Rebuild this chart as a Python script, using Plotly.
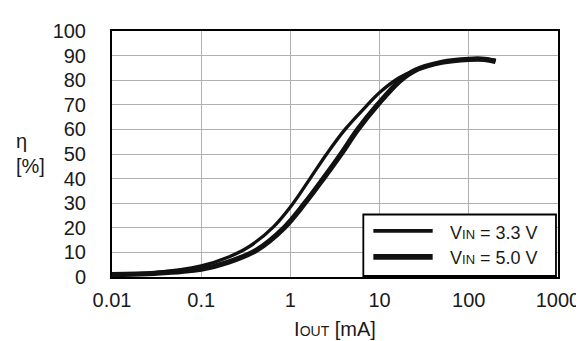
import plotly.graph_objects as go

# Data
iout_33 = [0.01, 0.03, 0.1, 0.2, 0.35, 0.65, 1.05, 1.66, 2.55, 4.1, 7.1, 10, 16.6, 25, 50, 100, 150, 200]
eff_33 = [1.2, 1.8, 4.5, 8, 12.5, 20.5, 29.5, 40, 50, 60, 69.5, 75, 81, 84, 87.3, 88.5, 88.6, 88.2]

iout_50 = [0.01, 0.03, 0.1, 0.2, 0.42, 0.85, 1.45, 2.34, 3.7, 5.7, 9.5, 16.6, 25, 50, 100, 150, 200]
eff_50 = [1.0, 1.5, 3.2, 6, 11, 20, 30, 40, 50, 60, 70, 79.5, 84, 87.3, 88.5, 88.5, 87.6]

x_ticks = [0.01, 0.1, 1, 10, 100, 1000]
x_tick_labels = ["0.01", "0.1", "1", "10", "100", "1000"]
y_ticks = list(range(0, 101, 10))

legend_labels = ["V<span style='font-size:13px'>IN</span> = 3.3 V",
                 "V<span style='font-size:13px'>IN</span> = 5.0 V"]

FONT = "Liberation Sans, Arial, sans-serif"
TXT = "#1a1a1a"

fig = go.Figure()
fig.add_trace(go.Scatter(x=iout_33, y=eff_33, mode="lines",
                         line=dict(color="#111111", width=3.3, shape="spline", smoothing=1.0),
                         showlegend=False))
fig.add_trace(go.Scatter(x=iout_50, y=eff_50, mode="lines",
                         line=dict(color="#111111", width=5.3, shape="spline", smoothing=1.0),
                         showlegend=False))

# Manual legend box
fig.add_shape(type="rect", xref="paper", yref="paper", x0=0.5635, x1=0.9955, y0=0.004, y1=0.254,
              fillcolor="white", line=dict(color="black", width=1.8), layer="above")
fig.add_shape(type="line", xref="paper", yref="paper", x0=0.586, x1=0.719, y0=0.1875, y1=0.1875,
              line=dict(color="#111111", width=3.6), layer="above")
fig.add_shape(type="line", xref="paper", yref="paper", x0=0.586, x1=0.719, y0=0.082, y1=0.082,
              line=dict(color="#111111", width=5.6), layer="above")
for lbl, yy in zip(legend_labels, [0.18, 0.077]):
    fig.add_annotation(text=lbl, xref="paper", yref="paper", x=0.753, y=yy, xanchor="left", yanchor="middle",
                       showarrow=False, font=dict(family=FONT, size=18, color=TXT))

# Y axis label
fig.add_annotation(text="η", xref="paper", yref="paper", x=-0.22, y=(272 - 130) / 256, xanchor="left",
                   yanchor="middle", showarrow=False, font=dict(family=FONT, size=20, color=TXT))
fig.add_annotation(text="[%]", xref="paper", yref="paper", x=-0.22, y=(272 - 157) / 256, xanchor="left",
                   yanchor="middle", showarrow=False, font=dict(family=FONT, size=20, color=TXT))

fig.update_layout(
    width=584, height=341,
    margin=dict(l=104, r=31, t=17, b=69),
    paper_bgcolor="white", plot_bgcolor="white",
    font=dict(family=FONT, size=20, color=TXT),
    xaxis=dict(type="log", range=[-2, 3], tickvals=x_ticks, ticktext=x_tick_labels,
               showgrid=True, gridcolor="#b0b0b0", gridwidth=1,
               showline=True, linecolor="black", linewidth=2, mirror=True,
               ticks="", ticklabelstandoff=4, zeroline=False,
               title=dict(text="I<span style='font-size:14px'>OUT</span> [mA]", standoff=12,
                          font=dict(family=FONT, size=20, color=TXT))),
    yaxis=dict(range=[0, 100], tickvals=y_ticks, showgrid=True, gridcolor="#b0b0b0", gridwidth=1,
               showline=True, linecolor="black", linewidth=2, mirror=True,
               ticks="", ticklabelstandoff=20, zeroline=False),
)

fig.write_html("out.html")
